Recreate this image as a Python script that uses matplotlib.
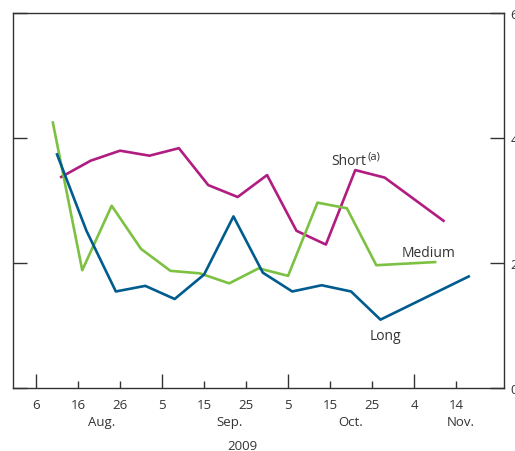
import pandas as pd
import matplotlib.pyplot as plt
import matplotlib.transforms as mtransforms

plt.rcParams['font.family'] = ['Open Sans', 'DejaVu Sans']

# datos (semanales, %)
fechas_short = ["2009-08-12", "2009-08-19", "2009-08-26", "2009-09-02", "2009-09-09",
                "2009-09-16", "2009-09-23", "2009-09-30", "2009-10-07", "2009-10-14",
                "2009-10-21", "2009-10-28", "2009-11-11"]
short = [3.38, 3.64, 3.80, 3.72, 3.84, 3.25, 3.06, 3.41, 2.52, 2.30, 3.49, 3.37, 2.68]

fechas_medium = ["2009-08-10", "2009-08-17", "2009-08-24", "2009-08-31", "2009-09-07",
                 "2009-09-14", "2009-09-21", "2009-09-28", "2009-10-05", "2009-10-12",
                 "2009-10-19", "2009-10-26", "2009-11-09"]
medium = [4.25, 1.89, 2.92, 2.23, 1.88, 1.84, 1.68, 1.92, 1.80, 2.97, 2.88, 1.97, 2.02]

fechas_long = ["2009-08-11", "2009-08-18", "2009-08-25", "2009-09-01", "2009-09-08",
               "2009-09-15", "2009-09-22", "2009-09-29", "2009-10-06", "2009-10-13",
               "2009-10-20", "2009-10-27", "2009-11-17"]
long_ = [3.74, 2.52, 1.55, 1.64, 1.43, 1.82, 2.75, 1.85, 1.55, 1.65, 1.55, 1.10, 1.79]

ticks_mayores = ["2009-08-06", "2009-09-05", "2009-10-05", "2009-11-04"]
etiquetas_mayores = ["6", "5", "5", "4"]
ticks_menores = ["2009-08-16", "2009-08-26", "2009-09-15", "2009-09-25",
                 "2009-10-15", "2009-10-25", "2009-11-14"]
etiquetas_menores = ["16", "26", "15", "25", "15", "25", "14"]

meses = ["Aug.", "Sep.", "Oct.", "Nov."]
pos_meses = ["2009-08-21 14:00", "2009-09-21", "2009-10-20", "2009-11-15"]

c_short = "#B01C80"
c_medium = "#7DC142"
c_long = "#005B8E"
gris = "#333333"

fig = plt.figure(figsize=(5.15, 4.52), dpi=100)
ax = fig.add_axes([0.0258, 0.1383, 0.9519, 0.8307])

ax.plot(pd.to_datetime(fechas_short), short, color=c_short, lw=1.9)
ax.plot(pd.to_datetime(fechas_medium), medium, color=c_medium, lw=1.9)
ax.plot(pd.to_datetime(fechas_long), long_, color=c_long, lw=1.9)

ax.set_xlim(pd.Timestamp("2009-07-31 14:00"), pd.Timestamp("2009-11-25 07:00"))
ax.set_ylim(0, 6)

ax.set_xticks(pd.to_datetime(ticks_mayores), labels=etiquetas_mayores)
ax.set_xticks(pd.to_datetime(ticks_menores), labels=etiquetas_menores, minor=True)
ax.tick_params(axis="x", which="major", direction="in", length=10, width=1, color=gris,
               labelsize=9.5, labelcolor=gris, pad=7)
ax.tick_params(axis="x", which="minor", direction="in", length=5, width=1, color=gris,
               labelsize=9.5, labelcolor=gris, pad=7)

ax.set_yticks([0, 2, 4, 6])
ax.tick_params(axis="y", direction="in", length=10, width=1, color=gris,
               left=True, right=True, labelleft=False, labelright=True,
               labelsize=9.5, labelcolor=gris, pad=5)

for s in ax.spines.values():
    s.set_color(gris)
    s.set_linewidth(1.0)

trans = mtransforms.blended_transform_factory(ax.transData, ax.transAxes)
for m, p in zip(meses, pos_meses):
    ax.text(pd.Timestamp(p), -0.088, m, transform=trans, ha="center", va="center",
            fontsize=9.5, color=gris)
ax.text(pd.Timestamp("2009-09-24 06:00"), -0.152, "2009", transform=trans,
        ha="center", va="center", fontsize=9.5, color=gris)

t_short = ax.text(pd.Timestamp("2009-10-15 05:00"), 3.59, "Short", fontsize=10,
                  color=gris, ha="left", va="baseline")
ax.annotate("(a)", xy=(1, 1), xycoords=t_short, xytext=(1, 2), textcoords="offset points",
            fontsize=8, color=gris, ha="left", va="top")
ax.text(pd.Timestamp("2009-11-01 00:00"), 2.12, "Medium", fontsize=10,
        color=gris, ha="left", va="baseline")
ax.text(pd.Timestamp("2009-10-24 12:00"), 0.79, "Long", fontsize=10,
        color=gris, ha="left", va="baseline")

plt.savefig("out.png", dpi=100)
plt.close()
